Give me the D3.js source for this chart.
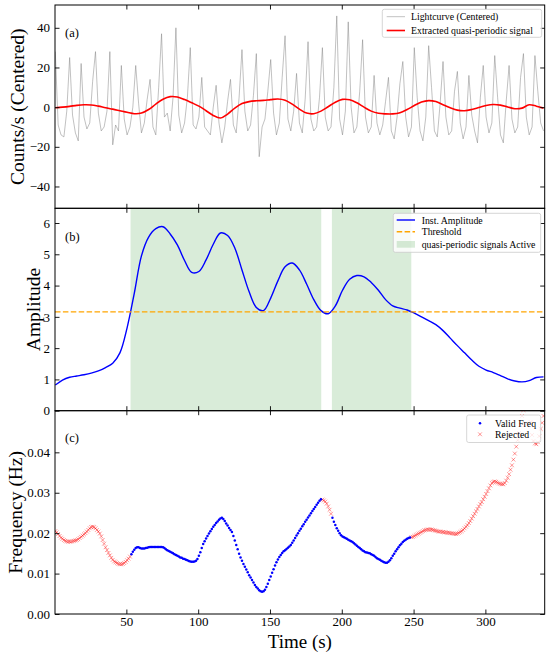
<!DOCTYPE html>
<html>
<head>
<meta charset="utf-8">
<script src="https://cdn.jsdelivr.net/npm/d3@7"></script>
<style>
  html, body { margin: 0; padding: 0; background: #fff; }
  svg { display: block; }
  text { font-family: "Liberation Serif", "DejaVu Serif", serif; fill: #000; }
</style>
</head>
<body>
<svg id="chart" width="550" height="657"></svg>
<script>
// ---------------- DATA ----------------
// Lightcurve (centered counts/s), sampled every 2 s starting at t = 0.5 s
const lcStart = 0.5, lcStep = 2;
const lcCounts = [
  28, -9, -14, -15, -2, 25, -4, -13, -17, 22,
  -5, -11, -8, 13, 28, -3, -12, -10, -2, 28,
  -19, -9, -12, 21, -6, -14, -10, 0, 21, 2,
  -13, -8, 4, 14, -10, -14, 10, 37, -5, -3,
  -12, 5, 40, -4, -13, -8, 5, 30, -9, -11,
  -5, 15, -10, -12, -14, 0, 11, -8, -18, -10,
  3, 14, -9, -13, 5, 29, -2, -12, -9, 6,
  27, -25, -10, -6, 8, 24, -3, -14, -8, 15,
  36, -6, -12, -2, 17, -8, -13, 4, 33, -6,
  -12, -10, 5, 30, -5, -12, -10, 10, 46, -6,
  -14, -2, 43, 0, -13, -10, 8, 34, -5, -13,
  -10, 16, -8, -14, -9, 3, 15, -12, -16, -5,
  12, 23, -5, -15, -10, 30, 5, -12, -17, -5,
  31, 10, -12, -15, 2, 23, -5, -14, -12, 8,
  18, -8, -16, -10, 16, -4, -12, -18, 5, 21,
  -5, -13, -8, 26, 5, -14, -18, 3, 21, -6,
  -13, -10, 15, 27, -5, -14, -10, 26, 8, -8,
  -12
];

// Extracted quasi-periodic signal and instantaneous amplitude, every 5 s from t = 0.5 s
const smoothStart = 0.5, smoothStep = 5;
const signalValues = [
  -0.3, 0, 0.4, 0.9, 1.2, 1.1, 0.5, -0.3, -1.0, -1.8,
  -2.6, -3.3, -3.0, -1.2, 1.5, 4.0, 5.3, 5.1, 3.8, 2.2,
  0.5, -1.8, -4.2, -5.5, -3.5, -0.5, 1.8, 2.8, 3.2, 3.4,
  3.8, 4.1, 3.5, 1.5, -1.0, -3.0, -3.3, -2.0, 0.2, 2.5,
  3.9, 3.7, 2.2, 0.0, -2.0, -3.1, -3.4, -3.4, -2.8, -1.2,
  0.8, 2.6, 3.3, 2.8, 1.2, -0.3, -1.5, -1.8, -1.2, -0.2,
  0.8, 1.3, 1.0, 0.1, -0.8, -0.5, 1.2, 0.5, -0.5
];
const amplitudeValues = [
  0.82, 0.98, 1.07, 1.11, 1.15, 1.2, 1.27, 1.38, 1.52, 1.85,
  2.65, 3.75, 4.95, 5.55, 5.82, 5.88, 5.65, 5.3, 4.8, 4.42,
  4.45, 4.82, 5.32, 5.68, 5.6, 5.2, 4.5, 3.8, 3.3, 3.2,
  3.6, 4.15, 4.6, 4.72, 4.5, 4.05, 3.55, 3.2, 3.1, 3.35,
  3.85, 4.2, 4.32, 4.28, 4.1, 3.85, 3.55, 3.35, 3.28, 3.22,
  3.12, 3.0, 2.88, 2.75, 2.56, 2.32, 2.08, 1.85, 1.62, 1.42,
  1.3, 1.22, 1.12, 1.02, 0.95, 0.92, 0.96, 1.06, 1.08
];
const threshold = 3.16;
const activeSpans = [[52.9, 185.7], [193.1, 248.4]];

// Instantaneous frequency (Hz), every 1 s from t = 0.5 s
const freqStart = 0.5, freqStep = 1;
const freqValues = [
  0.0205,0.0202,0.0198,0.0193,0.0189,0.0186,0.0183,0.0181,0.01795,0.0179,
  0.0179,0.0179,0.0180,0.0181,0.0182,0.0183,0.0185,0.0188,0.0191,0.0194,
  0.0197,0.0200,0.0204,0.0208,0.0212,0.0215,0.0216,0.0215,0.0212,0.0208,
  0.0204,0.0199,0.0192,0.0183,0.0174,0.0165,0.0158,0.0151,0.0145,0.0139,
  0.0134,0.0130,0.0128,0.0126,0.0124,0.0123,0.0123,0.0124,0.0126,0.0129,
  0.0133,0.0137,0.0142,0.0148,0.0154,0.0159,0.0163,0.0165,0.0165,0.0163,
  0.0162,0.0162,0.0162,0.0163,0.0164,0.0165,0.0166,0.0166,0.0166,0.0166,
  0.0166,0.0166,0.0166,0.0166,0.0166,0.0165,0.0163,0.0160,0.0158,0.0156,
  0.0154,0.0152,0.0150,0.0148,0.0146,0.0144,0.0142,0.0140,0.0139,0.0137,
  0.0136,0.0134,0.0133,0.0131,0.0130,0.0129,0.0129,0.0130,0.0132,0.0136,
  0.0144,0.0153,0.0163,0.0173,0.0180,0.0187,0.0193,0.0199,0.0205,0.0210,
  0.0216,0.0220,0.0225,0.0229,0.0233,0.0236,0.0238,0.0235,0.0230,0.0224,
  0.0219,0.0213,0.0208,0.0203,0.0193,0.0182,0.0171,0.0160,0.0149,0.0140,
  0.0132,0.0124,0.0117,0.0110,0.0103,0.0096,0.0090,0.0084,0.0078,0.0072,
  0.0067,0.0063,0.0059,0.0056,0.0055,0.0056,0.0060,0.0067,0.0075,0.0084,
  0.0093,0.0102,0.0111,0.0120,0.0128,0.0135,0.0141,0.0146,0.0151,0.0155,
  0.0158,0.0161,0.0164,0.0167,0.0171,0.0176,0.0182,0.0188,0.0194,0.0200,
  0.0206,0.0211,0.0217,0.0222,0.0228,0.0233,0.0239,0.0244,0.0249,0.0255,
  0.0260,0.0265,0.0270,0.0275,0.0280,0.0284,0.0283,0.0281,0.0278,0.0273,
  0.0266,0.0258,0.0248,0.0238,0.0228,0.0220,0.0212,0.0206,0.0200,0.0195,
  0.0192,0.0190,0.0188,0.0186,0.0184,0.0182,0.0180,0.0178,0.0175,0.0172,
  0.0169,0.0166,0.0163,0.0160,0.0157,0.0155,0.0153,0.0152,0.0151,0.0150,
  0.0148,0.0146,0.0144,0.0141,0.0138,0.0136,0.0134,0.0132,0.0130,0.0128,
  0.0127,0.0127,0.0129,0.0133,0.0138,0.0144,0.0149,0.0155,0.0160,0.0165,
  0.0170,0.0174,0.0178,0.0181,0.0184,0.0186,0.0188,0.0189,0.0190,0.0191,
  0.0193,0.0195,0.0197,0.0199,0.0201,0.0203,0.0205,0.0207,0.0208,0.0209,
  0.0209,0.0209,0.0209,0.0208,0.0207,0.0206,0.0205,0.0204,0.0204,0.0203,
  0.0203,0.0202,0.0202,0.0201,0.0201,0.0200,0.0200,0.0199,0.0198,0.0198,
  0.0199,0.0201,0.0203,0.0205,0.0208,0.0212,0.0216,0.0220,0.0225,0.0230,
  0.0236,0.0242,0.0248,0.0254,0.0260,0.0266,0.0272,0.0277,0.0284,0.0290,
  0.0297,0.0304,0.0311,0.0318,0.0324,0.0327,0.0328,0.0327,0.0325,0.0323,
  0.0322,0.0321,0.0321,0.0324,0.0330,0.0337,0.0346,0.0357,0.0368,0.0382,
  0.0397,0.0414,0.0430,0.0448,0.0468,0.0490,0.0505,0.0525,0.0545,0.0550,
  0.0520,0.0475,0.0443,0.0428,0.0422,0.0420,0.0425,0.0440,0.0458,0.0473,
  0.0490
];

// Tick labels
const xTicks = [50, 100, 150, 200, 250, 300];
const yTicksA = [-40, -20, 0, 20, 40];
const yTicksB = [0, 1, 2, 3, 4, 5, 6];
const yTicksC = [0, 0.01, 0.02, 0.03, 0.04];

// ---------------- CHART ----------------
const svg = d3.select("#chart");
const L = 55, R = 544.7;
const panels = [
  { top: 5, bottom: 208.3 },
  { top: 208.3, bottom: 410.7 },
  { top: 410.7, bottom: 614 }
];

const x = d3.scaleLinear().domain([0.3, 341.3]).range([L, R]);
const yA = d3.scaleLinear().domain([-51, 51.5]).range([panels[0].bottom, panels[0].top]);
const yB = d3.scaleLinear().domain([0, 6.47]).range([panels[1].bottom, panels[1].top]);
const yC = d3.scaleLinear().domain([0, 0.0503]).range([panels[2].bottom, panels[2].top]);

const lcData = lcCounts.map((v, i) => ({ t: lcStart + i * lcStep, v }));
const sigData = signalValues.map((v, i) => ({ t: smoothStart + i * smoothStep, v }));
const ampData = amplitudeValues.map((v, i) => ({ t: smoothStart + i * smoothStep, v }));
const freqData = freqValues.map((v, i) => {
  const t = freqStart + i * freqStep;
  const valid = activeSpans.some(s => t >= s[0] && t <= s[1]);
  return { t, v, valid };
});

const defs = svg.append("defs");
panels.forEach((p, i) => {
  defs.append("clipPath").attr("id", "clip" + i)
    .append("rect").attr("x", L).attr("y", p.top).attr("width", R - L).attr("height", p.bottom - p.top);
});

const TICK = 4.5;
function drawAxes(p, y, yTicks, yFmt, showX) {
  const g = svg.append("g");
  const left = g.append("g").attr("transform", `translate(${L},0)`)
    .call(d3.axisLeft(y).tickValues(yTicks).tickFormat(yFmt).tickSize(-TICK).tickPadding(5));
  const right = g.append("g").attr("transform", `translate(${R},0)`)
    .call(d3.axisRight(y).tickValues(yTicks).tickFormat("").tickSize(-TICK));
  const top = g.append("g").attr("transform", `translate(0,${p.top})`)
    .call(d3.axisTop(x).tickValues(xTicks).tickFormat("").tickSize(-TICK));
  const bottom = g.append("g").attr("transform", `translate(0,${p.bottom})`)
    .call(d3.axisBottom(x).tickValues(xTicks).tickFormat(showX ? d3.format("d") : "").tickSize(-TICK).tickPadding(3));
  [left, right, top, bottom].forEach(a => {
    a.select(".domain").remove();
    a.selectAll(".tick line").attr("stroke", "#000").attr("stroke-width", 0.9);
    a.selectAll(".tick text").style("font-family", '"Liberation Serif", serif').attr("font-size", 13).attr("fill", "#000");
  });
  g.append("rect").attr("x", L).attr("y", p.top).attr("width", R - L).attr("height", p.bottom - p.top)
    .attr("fill", "none").attr("stroke", "#000").attr("stroke-width", 1);
}

// ---- Panel (a)
const gA = svg.append("g").attr("clip-path", "url(#clip0)");
gA.append("path").datum(lcData)
  .attr("d", d3.line().x(d => x(d.t)).y(d => yA(d.v)))
  .attr("fill", "none").attr("stroke", "#808080").attr("stroke-opacity", 0.55).attr("stroke-width", 0.9);
gA.append("path").datum(sigData)
  .attr("d", d3.line().x(d => x(d.t)).y(d => yA(d.v)).curve(d3.curveCatmullRom.alpha(0.5)))
  .attr("fill", "none").attr("stroke", "#ff0000").attr("stroke-width", 1.6);
drawAxes(panels[0], yA, yTicksA, d3.format("d"), false);

// ---- Panel (b)
const gB = svg.append("g").attr("clip-path", "url(#clip1)");
gB.selectAll("rect.span").data(activeSpans).join("rect").attr("class", "span")
  .attr("x", d => x(d[0])).attr("width", d => x(d[1]) - x(d[0]))
  .attr("y", panels[1].top).attr("height", panels[1].bottom - panels[1].top)
  .attr("fill", "#008000").attr("fill-opacity", 0.15);
gB.append("path").datum(ampData)
  .attr("d", d3.line().x(d => x(d.t)).y(d => yB(d.v)).curve(d3.curveCatmullRom.alpha(0.5)))
  .attr("fill", "none").attr("stroke", "#0000ff").attr("stroke-width", 1.4);
gB.append("line").attr("x1", L).attr("x2", R).attr("y1", yB(threshold)).attr("y2", yB(threshold))
  .attr("stroke", "#ffa500").attr("stroke-width", 1.4).attr("stroke-dasharray", "5.5,2.4");
drawAxes(panels[1], yB, yTicksB, d3.format("d"), false);

// ---- Panel (c)
const gC = svg.append("g").attr("clip-path", "url(#clip2)");
const xs = 1.9;
gC.selectAll("path.rej").data(freqData.filter(d => !d.valid)).join("path").attr("class", "rej")
  .attr("d", d => `M${x(d.t)-xs},${yC(d.v)-xs}L${x(d.t)+xs},${yC(d.v)+xs}M${x(d.t)-xs},${yC(d.v)+xs}L${x(d.t)+xs},${yC(d.v)-xs}`)
  .attr("stroke", "#ff0000").attr("stroke-opacity", 0.42).attr("stroke-width", 1).attr("fill", "none");
gC.selectAll("circle.val").data(freqData.filter(d => d.valid)).join("circle").attr("class", "val")
  .attr("cx", d => x(d.t)).attr("cy", d => yC(d.v)).attr("r", 1.25).attr("fill", "#0000ff");
drawAxes(panels[2], yC, yTicksC, d3.format(".2f"), true);

// ---- Panel labels
[["(a)", 33], ["(b)", 236.5], ["(c)", 438]].forEach(([t, yy]) => {
  svg.append("text").attr("x", 65).attr("y", yy).attr("dominant-baseline", "central")
    .attr("font-size", 12.5).text(t);
});

// ---- Axis titles
function yTitle(text, cx, cy) {
  svg.append("text").attr("transform", `translate(${cx},${cy}) rotate(-90)`)
    .attr("text-anchor", "middle").attr("dominant-baseline", "central")
    .attr("font-size", 19.5).text(text);
}
yTitle("Counts/s (Centered)", 17, (panels[0].top + panels[0].bottom) / 2);
yTitle("Amplitude", 33, (panels[1].top + panels[1].bottom) / 2);
yTitle("Frequency (Hz)", 15.5, (panels[2].top + panels[2].bottom) / 2);
svg.append("text").attr("x", (L + R) / 2).attr("y", 647.5).attr("text-anchor", "middle")
  .attr("font-size", 19).text("Time (s)");

// ---- Legends
function legendBox(x0, y0, w, h) {
  svg.append("rect").attr("x", x0).attr("y", y0).attr("width", w).attr("height", h).attr("rx", 2)
    .attr("fill", "#fff").attr("fill-opacity", 0.8).attr("stroke", "#cccccc").attr("stroke-width", 0.8);
}
function legendText(tx, ty, t) {
  svg.append("text").attr("x", tx).attr("y", ty).attr("dominant-baseline", "central")
    .attr("font-size", 9.8).text(t);
}
// (a)
legendBox(382.3, 9.3, 159.4, 28);
svg.append("line").attr("x1", 386.7).attr("x2", 405).attr("y1", 16.7).attr("y2", 16.7)
  .attr("stroke", "#808080").attr("stroke-opacity", 0.55).attr("stroke-width", 0.9);
legendText(411, 16.7, "Lightcurve (Centered)");
svg.append("line").attr("x1", 386.7).attr("x2", 405).attr("y1", 30.5).attr("y2", 30.5)
  .attr("stroke", "#ff0000").attr("stroke-width", 1.6);
legendText(411, 30.5, "Extracted quasi-periodic signal");
// (b)
legendBox(393.3, 213.3, 147.4, 39);
svg.append("line").attr("x1", 396.7).attr("x2", 415).attr("y1", 220).attr("y2", 220)
  .attr("stroke", "#0000ff").attr("stroke-width", 1.4);
legendText(421.7, 220, "Inst. Amplitude");
svg.append("line").attr("x1", 396.7).attr("x2", 415).attr("y1", 231.7).attr("y2", 231.7)
  .attr("stroke", "#ffa500").attr("stroke-width", 1.4).attr("stroke-dasharray", "5.5,2.4");
legendText(421.7, 231.7, "Threshold");
svg.append("rect").attr("x", 396.7).attr("y", 241).attr("width", 18.3).attr("height", 6.7)
  .attr("fill", "#008000").attr("fill-opacity", 0.15);
legendText(421.7, 244.3, "quasi-periodic signals Active");
// (c)
legendBox(466.7, 415, 74, 27.5);
svg.append("circle").attr("cx", 480).attr("cy", 423.3).attr("r", 1.25).attr("fill", "#0000ff");
legendText(495, 423.3, "Valid Freq");
svg.append("path")
  .attr("d", `M${480-xs},${434.3-xs}L${480+xs},${434.3+xs}M${480-xs},${434.3+xs}L${480+xs},${434.3-xs}`)
  .attr("stroke", "#ff0000").attr("stroke-opacity", 0.42).attr("stroke-width", 1);
legendText(495, 434.3, "Rejected");
</script>
</body>
</html>
